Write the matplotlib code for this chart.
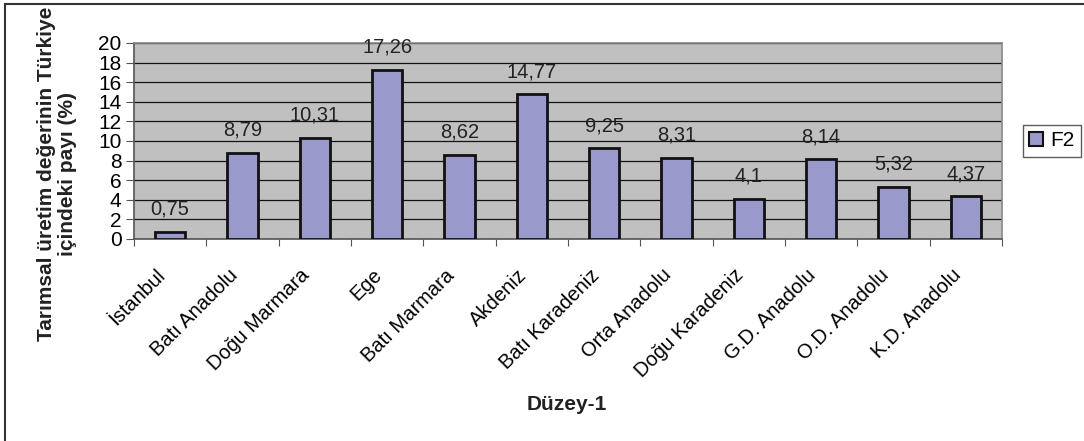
import matplotlib
matplotlib.use("Agg")
import matplotlib.pyplot as plt
from matplotlib.patches import Rectangle, Patch
from matplotlib.transforms import ScaledTranslation
import numpy as np

regions = ["İstanbul", "Batı Anadolu", "Doğu Marmara", "Ege", "Batı Marmara",
           "Akdeniz", "Batı Karadeniz", "Orta Anadolu", "Doğu Karadeniz",
           "G.D. Anadolu", "O.D. Anadolu", "K.D. Anadolu"]
shares = [0.75, 8.79, 10.31, 17.26, 8.62, 14.77, 9.25, 8.31, 4.1, 8.14, 5.32, 4.37]
value_labels = ["0,75", "8,79", "10,31", "17,26", "8,62", "14,77", "9,25",
                "8,31", "4,1", "8,14", "5,32", "4,37"]
yticks = list(range(0, 21, 2))

plt.rcParams['font.family'] = ['Liberation Sans', 'DejaVu Sans']

W, H = 1084, 441
fig = plt.figure(figsize=(W / 100, H / 100), dpi=100)

# outer chart frame (only top and left edges visible)
fig.patches.append(Rectangle((5 / W, -0.1), 1.2, 1 - 4 / H + 0.1,
                             transform=fig.transFigure, fill=False,
                             edgecolor="#333333", linewidth=1.5))

ax = fig.add_axes([134 / W, 1 - 239 / H, (1002 - 134) / W, (239 - 43) / H])
ax.set_facecolor("#C0C0C0")

x = np.arange(len(regions))
ax.bar(x, shares, width=0.42, color="#9999CC", edgecolor="#111111",
       linewidth=2, zorder=3)

for xi, v, lab in zip(x, shares, value_labels):
    ax.text(xi, v + 1.75, lab, ha="center", va="baseline", fontsize=14.5,
            color="#222222", zorder=4)

ax.set_xlim(-0.5, len(regions) - 0.5)
ax.set_ylim(0, 20)
ax.set_yticks(yticks)
ax.set_yticklabels([str(t) for t in yticks], fontsize=15)
ax.yaxis.grid(True, color="#111111", linewidth=0.9, zorder=1)
ax.set_axisbelow(True)

ax.set_xticks(np.arange(len(regions) + 1) - 0.5)
ax.set_xticklabels([])
ax.set_xticks(x, minor=True)
ax.set_xticklabels(regions, minor=True, rotation=45, ha="right",
                   va="center", rotation_mode="anchor", fontsize=14.5)
ax.tick_params(axis="x", which="minor", length=0, pad=24)
ax.tick_params(axis="x", which="major", length=5, color="#555555", direction="out")
ax.tick_params(axis="y", length=6, color="#555555", direction="out", pad=3)

# nudge the slanted category labels slightly to the left
shift = ScaledTranslation(-8 / 100, 0, fig.dpi_scale_trans)
for lbl in ax.get_xticklabels(minor=True):
    lbl.set_transform(lbl.get_transform() + shift)

for side in ["top", "right"]:
    ax.spines[side].set_color("#888888")
    ax.spines[side].set_linewidth(1.2)
for side in ["left", "bottom"]:
    ax.spines[side].set_color("#555555")
    ax.spines[side].set_linewidth(1.2)

fig.text(57 / W, 1 - 174 / H,
         "Tarımsal üretim değerinin Türkiye\niçindeki payı (%)",
         rotation=90, ha="center", va="center", multialignment="center",
         fontsize=15, fontweight="bold", color="#222222", linespacing=1.15)
fig.text(567 / W, 1 - 404 / H, "Düzey-1", ha="center", va="center",
         fontsize=15, fontweight="bold", color="#222222")

leg = fig.legend(handles=[Patch(facecolor="#9999CC", edgecolor="#111111",
                                linewidth=1.5, label="F2")],
                 loc="center left", bbox_to_anchor=(1023 / W, 1 - 141 / H),
                 fontsize=15, frameon=True, fancybox=False,
                 handlelength=0.65, handleheight=0.65, handletextpad=0.35,
                 borderpad=0.3, borderaxespad=0)
leg.get_frame().set_edgecolor("#333333")
leg.get_frame().set_linewidth(1.0)

fig.savefig("out.png", dpi=100)
